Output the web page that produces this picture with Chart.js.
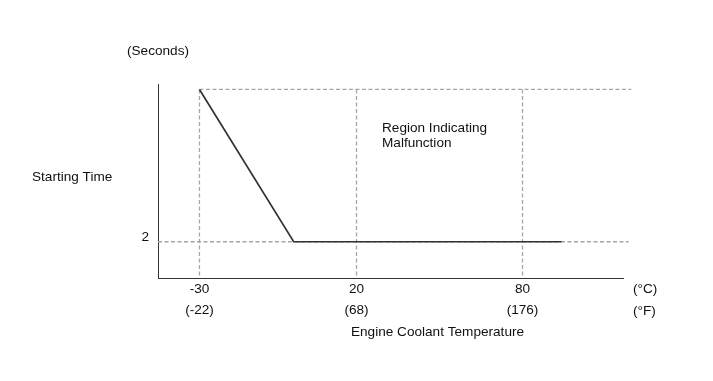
<!DOCTYPE html>
<html><head><meta charset="utf-8">
<script src="https://cdn.jsdelivr.net/npm/chart.js@4/dist/chart.umd.min.js"></script>
<style>html,body{margin:0;padding:0;background:#fff}canvas{display:block}</style>
</head><body>
<canvas id="c" width="713" height="381"></canvas>
<script>
// ---- data ----
const tempC = [-30, 0, 94];          // engine coolant temperature (°C)
const startTime = [10.4, 2, 2];      // starting time (seconds)
const tickC = [-30, 20, 80];
const tickCLabels = ['-30', '20', '80'];
const tickFLabels = ['(-22)', '(68)', '(176)'];
const yTicks = [2];
const yTickLabels = ['2'];
const limitTime = 10.4;              // top reference level
const thresholdTime = 2;             // lower reference level

// ---- schematic (non-uniform) x scale ----
const X_KNOTS = [-43, -30, 20, 80, 116];
const X_FRACS = [0, 0.0892, 0.4269, 0.7839, 1];
function v2f(v) {
  let i = 1;
  while (i < X_KNOTS.length - 1 && v > X_KNOTS[i]) i++;
  const a = X_KNOTS[i - 1], b = X_KNOTS[i];
  return X_FRACS[i - 1] + (v - a) / (b - a) * (X_FRACS[i] - X_FRACS[i - 1]);
}
function f2v(f) {
  let i = 1;
  while (i < X_FRACS.length - 1 && f > X_FRACS[i]) i++;
  const a = X_FRACS[i - 1], b = X_FRACS[i];
  return X_KNOTS[i - 1] + (f - a) / (b - a) * (X_KNOTS[i] - X_KNOTS[i - 1]);
}
class PiecewiseScale extends Chart.LinearScale {
  getPixelForValue(value) {
    if (value === null || value === undefined || isNaN(value)) return NaN;
    return this.getPixelForDecimal(v2f(value));
  }
  getValueForPixel(pixel) { return f2v(this.getDecimalForPixel(pixel)); }
}
PiecewiseScale.id = 'piecewise';
PiecewiseScale.defaults = Chart.LinearScale.defaults;
Chart.register(PiecewiseScale);

const FONT = '"Liberation Sans", Arial, sans-serif';
const FS = 13.6;
const DASH = { borderColor: '#a6a6a6', borderWidth: 1.3, borderDash: [4, 2.5], pointRadius: 0, clip: false, fill: false };

const curve = tempC.map((x, i) => ({ x, y: startTime[i] }));
const xEnd = 119, xEndMid = 118;

const notesPlugin = {
  id: 'notes',
  afterDraw(chart) {
    const ctx = chart.ctx;
    ctx.save();
    ctx.font = FS + 'px ' + FONT;
    ctx.fillStyle = '#111';
    ctx.textBaseline = 'alphabetic';
    ctx.textAlign = 'left';
    ctx.fillText('(Seconds)', 127, 55);
    ctx.fillText('Starting Time', 32, 181);
    ctx.fillText('Region Indicating', 382, 132);
    ctx.fillText('Malfunction', 382, 147);
    ctx.fillText('(°C)', 633, 293);
    ctx.fillText('(°F)', 633, 315);
    ctx.textAlign = 'center';
    ctx.fillText('Engine Coolant Temperature', 437.5, 335.5);
    ctx.restore();
  }
};

new Chart(document.getElementById('c'), {
  type: 'line',
  data: {
    datasets: [
      { data: curve, borderColor: '#333', borderWidth: 1.7, pointRadius: 0, tension: 0, fill: false },
      Object.assign({ data: [{ x: tickC[0], y: limitTime }, { x: xEnd, y: limitTime }] }, DASH),
      Object.assign({ data: [{ x: X_KNOTS[0], y: thresholdTime }, { x: xEndMid, y: thresholdTime }] }, DASH),
      Object.assign({ data: [{ x: tickC[0], y: limitTime }, { x: tickC[0], y: 0 }] }, DASH),
      Object.assign({ data: [{ x: tickC[1], y: limitTime }, { x: tickC[1], y: 0 }] }, DASH),
      Object.assign({ data: [{ x: tickC[2], y: limitTime }, { x: tickC[2], y: 0 }] }, DASH)
    ]
  },
  options: {
    responsive: false,
    animation: false,
    events: [],
    layout: { padding: { left: 98, right: 90, top: 84, bottom: 0 } },
    plugins: { legend: { display: false }, tooltip: { enabled: false } },
    scales: {
      x: {
        type: 'piecewise',
        min: X_KNOTS[0], max: X_KNOTS[X_KNOTS.length - 1],
        grid: { display: false, drawTicks: false },
        border: { display: true, color: '#333', width: 1 },
        afterBuildTicks: s => { s.ticks = tickC.map(v => ({ value: v })); },
        afterFit: s => { s.height = 103; },
        ticks: {
          autoSkip: false, maxRotation: 0, padding: 1, color: '#111',
          font: { family: FONT, size: FS, lineHeight: '21px' },
          callback: (v, i) => [tickCLabels[i], tickFLabels[i]]
        }
      },
      y: {
        type: 'linear', min: 0, max: 10.7,
        grid: { display: false, drawTicks: false },
        border: { display: true, color: '#333', width: 1 },
        afterBuildTicks: s => { s.ticks = yTicks.map(v => ({ value: v })); },
        afterFit: s => { s.width = 60; },
        ticks: {
          padding: 9, labelOffset: -4, color: '#111',
          font: { family: FONT, size: FS },
          callback: (v, i) => yTickLabels[i]
        }
      }
    }
  },
  plugins: [notesPlugin]
});
</script>
</body></html>
